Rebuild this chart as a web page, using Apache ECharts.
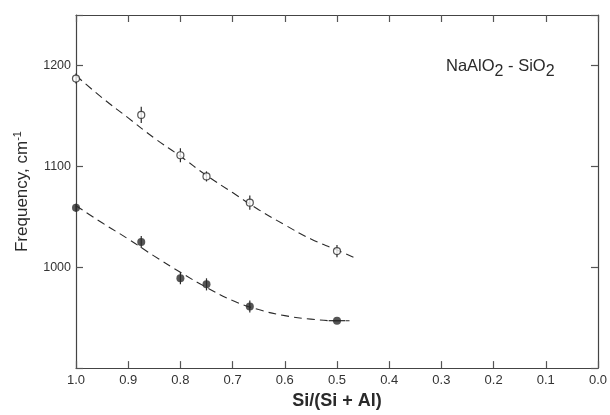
<!DOCTYPE html>
<html><head><meta charset="utf-8">
<script src="https://cdn.jsdelivr.net/npm/echarts@6/dist/echarts.min.js"></script>
<style>html,body{margin:0;padding:0;background:#fff}#c{width:610px;height:415px}</style>
</head><body><div id="c"></div>
<script>
// Measured points
const xPoints = [1.0, 0.875, 0.8, 0.75, 0.667, 0.5];
const openY = [1187, 1151, 1111, 1090, 1064, 1016];
const openErrY = [5, 8, 7, 5, 7, 6];
const filledY = [1059, 1025, 989, 983, 961, 947];
const filledErrY = [4, 6, 6, 6, 6, 0];
const filledErrX = [0, 0, 0, 0, 0, 0.016];
// Fitted dashed curves
const upperCurveX = [1.0, 0.95, 0.9, 0.85, 0.8, 0.75, 0.7, 0.65, 0.6, 0.55, 0.5, 0.465];
const upperCurveY = [1190, 1168, 1148, 1128, 1110, 1091, 1074, 1057, 1042, 1028, 1017, 1009];
const lowerCurveX = [1.0, 0.95, 0.9, 0.85, 0.8, 0.75, 0.7, 0.65, 0.6, 0.55, 0.5, 0.476];
const lowerCurveY = [1061, 1044, 1028, 1011, 995, 980, 967, 958, 952, 948.5, 947, 947];
const yTickLabels = [1000, 1100, 1200];

const zip = (a, b) => a.map((v, i) => [v, b[i]]);
const FONT = '"Liberation Sans", Arial, sans-serif';
const INK = '#2a2a2a';

function errRender(params, api) {
  const x = api.value(0), y = api.value(1), ey = api.value(2), ex = api.value(3);
  const children = [];
  const style = {stroke: INK, lineWidth: 1.2};
  if (ey > 0) {
    const p1 = api.coord([x, y - ey]), p2 = api.coord([x, y + ey]);
    children.push({type: 'line', shape: {x1: p1[0], y1: p1[1], x2: p2[0], y2: p2[1]}, style});
  }
  if (ex > 0) {
    const p1 = api.coord([x - ex, y]), p2 = api.coord([x + ex, y]);
    children.push({type: 'line', shape: {x1: p1[0], y1: p1[1], x2: p2[0], y2: p2[1]}, style});
  }
  return {type: 'group', children};
}

const chart = echarts.init(document.getElementById('c'), null, {renderer: 'canvas'});
const axisLine = {show: true, onZero: false, lineStyle: {color: '#444', width: 1.2}};
const tick = {show: true, inside: true, length: 7, lineStyle: {color: '#555', width: 1.2}};
chart.setOption({
  animation: false,
  backgroundColor: '#fff',
  textStyle: {fontFamily: FONT},
  title: {
    left: 441, top: 48,
    text: '{n|NaAlO}{s|2}{n| - SiO}{s|2}',
    textStyle: {
      fontWeight: 'normal',
      rich: {
        n: {fontSize: 16.5, color: INK, fontFamily: FONT, fontWeight: 'normal'},
        s: {fontSize: 16, color: INK, fontFamily: FONT, fontWeight: 'normal', padding: [11, 0, 0, 0]}
      }
    }
  },
  grid: {left: 76, right: 9, top: 15, bottom: 43},
  xAxis: [{
    type: 'value', min: 0, max: 1, interval: 0.1, inverse: true,
    name: 'Si/(Si + Al)', nameLocation: 'middle', nameGap: 22,
    nameTextStyle: {fontSize: 18, fontWeight: 'bold', color: INK, fontFamily: FONT},
    axisLine, axisTick: tick, splitLine: {show: false},
    axisLabel: {fontSize: 13, color: '#333', margin: 6, formatter: v => v.toFixed(1)}
  }, {
    type: 'value', position: 'top', min: 0, max: 1, interval: 0.1, inverse: true,
    axisLine, axisTick: tick, splitLine: {show: false}, axisLabel: {show: false}
  }],
  yAxis: [{
    type: 'value', position: 'left', min: 900, max: 1250, interval: 100,
    name: '{a|Frequency, cm}{b|-1}', nameLocation: 'middle', nameGap: 44,
    nameTextStyle: {
      rich: {
        a: {fontSize: 17, color: INK, fontFamily: FONT},
        b: {fontSize: 11, color: INK, fontFamily: FONT, padding: [0, 0, 9, 0]}
      }
    },
    axisLine, axisTick: tick, splitLine: {show: false},
    axisLabel: {fontSize: 12.5, color: '#333', margin: 5,
      formatter: v => yTickLabels.indexOf(v) >= 0 ? String(v) : ''}
  }, {
    type: 'value', position: 'right', min: 900, max: 1250, interval: 100,
    axisLine, axisTick: tick, splitLine: {show: false}, axisLabel: {show: false}
  }],
  series: [
    {type: 'line', data: zip(upperCurveX, upperCurveY), smooth: true, showSymbol: false, symbol: 'none',
      lineStyle: {color: INK, width: 1.1, type: [8, 5]}, z: 1},
    {type: 'line', data: zip(lowerCurveX, lowerCurveY), smooth: true, showSymbol: false, symbol: 'none',
      lineStyle: {color: INK, width: 1.1, type: [8, 5]}, z: 1},
    {type: 'custom', renderItem: errRender, z: 2,
      data: xPoints.map((x, i) => [x, openY[i], openErrY[i], 0])},
    {type: 'custom', renderItem: errRender, z: 2,
      data: xPoints.map((x, i) => [x, filledY[i], filledErrY[i], filledErrX[i]])},
    {type: 'scatter', data: zip(xPoints, openY), symbol: 'circle', symbolSize: 7, z: 3,
      itemStyle: {color: '#fff', borderColor: INK, borderWidth: 1.2}},
    {type: 'scatter', data: zip(xPoints, filledY), symbol: 'circle', symbolSize: 8, z: 3,
      itemStyle: {color: INK}}
  ]
});
</script></body></html>
